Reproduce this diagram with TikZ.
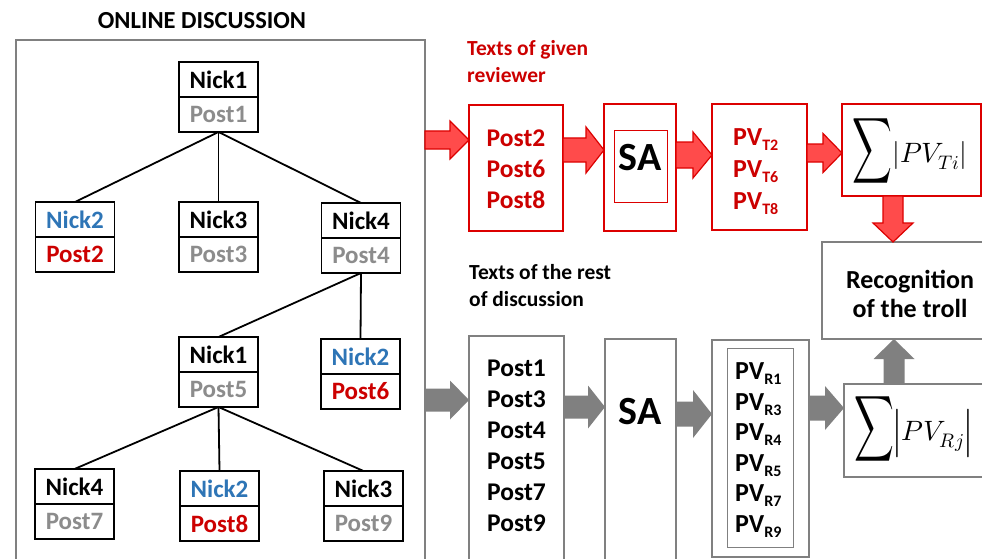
\documentclass[tikz,border=0pt]{standalone}
\usepackage{fontspec}
\usepackage{unicode-math}
\setmainfont{Carlito}
\setmathfont{Latin Modern Math}
\usetikzlibrary{calc}
\definecolor{rtxt}{RGB}{204,0,0}
\definecolor{rline}{RGB}{220,0,0}
\definecolor{rfill}{RGB}{255,75,75}
\definecolor{gline}{RGB}{128,128,128}
\definecolor{gtxt}{RGB}{140,140,140}
\definecolor{btxt}{RGB}{46,117,182}
% horizontal block arrow: style, start, end, shaft half width, head half width, head length
\newcommand\harr[6]{\draw[#1] let \p1=#2, \p2=#3 in (\x1,\y1+#4pt) -- (\x2-#6pt,\y1+#4pt) -- (\x2-#6pt,\y1+#5pt) -- (\x2,\y1) -- (\x2-#6pt,\y1-#5pt) -- (\x2-#6pt,\y1-#4pt) -- (\x1,\y1-#4pt) -- cycle;}
\newcommand\varrdown[6]{\draw[#1] let \p1=#2, \p2=#3 in (\x1-#4pt,\y1) -- (\x1-#4pt,\y2+#6pt) -- (\x1-#5pt,\y2+#6pt) -- (\x1,\y2) -- (\x1+#5pt,\y2+#6pt) -- (\x1+#4pt,\y2+#6pt) -- (\x1+#4pt,\y1) -- cycle;}
\newcommand\varrup[6]{\draw[#1] let \p1=#2, \p2=#3 in (\x1-#4pt,\y1) -- (\x1-#4pt,\y2-#6pt) -- (\x1-#5pt,\y2-#6pt) -- (\x1,\y2) -- (\x1+#5pt,\y2-#6pt) -- (\x1+#4pt,\y2-#6pt) -- (\x1+#4pt,\y1) -- cycle;}
\newcommand\sbx[1]{{\fontsize{16}{16}\selectfont\raisebox{-5pt}{#1}}}
\newcommand\tpair[7]{%
 \node[tcell, text=#6] (#1n) at (#2,#3+17.5) {#4};
 \node[tcell, text=#7] (#1p) at (#2,#3+52.5) {#5};}
\tikzset{
 tcell/.style={draw=black, line width=1.6, minimum width=79, minimum height=35, inner sep=0, outer sep=0, font=\fontsize{25}{25}\selectfont\bfseries},
 tline/.style={line width=1.8, black},
 redbox/.style={draw=rline, line width=2.5, inner sep=0, outer sep=0, anchor=north west},
 graybox/.style={draw=gline, line width=2.5, inner sep=0, outer sep=0, anchor=north west},
 thinred/.style={draw=rline, line width=0.8, inner sep=0, outer sep=0, anchor=north west},
 thingray/.style={draw=gline, line width=0.8, inner sep=0, outer sep=0, anchor=north west},
 redarrow/.style={fill=rfill, draw=rline, line width=1.2, line join=miter},
 grayarrow/.style={fill=gline, draw=none},
 bigtxt/.style={font=\fontsize{25.5}{31}\selectfont\bfseries, align=center, inner sep=0},
 lbl/.style={font=\fontsize{21.5}{27}\selectfont\bfseries, align=left, anchor=west, inner sep=0},
 satxt/.style={font=\fontsize{40}{40}\selectfont\bfseries, inner sep=0},
 pvtxt/.style={align=left, anchor=west, inner sep=0},
}
\begin{document}
\begin{tikzpicture}[x=1pt,y=-1pt]
\useasboundingbox (0,0) rectangle (982,559);
% left panel
\node[font=\fontsize{24.5}{24}\selectfont\bfseries, inner sep=0] (title) at (202,21) {ONLINE DISCUSSION};
\node[graybox, minimum width=409, minimum height=540] (outer) at (16,40) {};
\tpair{t1}{218.5}{62}{Nick1}{Post1}{black}{gtxt}
\tpair{t2}{75}{202}{Nick2}{Post2}{btxt}{rtxt}
\tpair{t3}{218.5}{202}{Nick3}{Post3}{black}{gtxt}
\tpair{t4}{361}{203}{Nick4}{Post4}{black}{gtxt}
\tpair{t5}{218.5}{337}{Nick1}{Post5}{black}{gtxt}
\tpair{t6}{360.5}{339}{Nick2}{Post6}{btxt}{rtxt}
\tpair{t7}{74.5}{469}{Nick4}{Post7}{black}{gtxt}
\tpair{t8}{219.5}{471}{Nick2}{Post8}{btxt}{rtxt}
\tpair{t9}{363.5}{471}{Nick3}{Post9}{black}{gtxt}
\draw[tline] (t1p.south) -- (t2n.north);
\draw[tline] (t1p.south) -- (t3n.north);
\draw[tline] (t1p.south) -- (t4n.north);
\draw[tline] (t4p.south) -- (t5n.north);
\draw[tline] (t4p.south) -- (t6n.north);
\draw[tline] (t5p.south) -- (t7n.north);
\draw[tline] (t5p.south) -- (t8n.north);
\draw[tline] (t5p.south) -- (t9n.north);
% red row
\node[lbl, text=rtxt] (rlbl) at (467,61.5) {Texts of given\\reviewer};
\node[redbox, minimum width=94, minimum height=126] (bA) at (469,105) {};
\node[bigtxt, text=rtxt] (bAt) at (516,169) {Post2\\Post6\\Post8};
\node[redbox, minimum width=72, minimum height=127] (saT) at (604,104) {};
\node[thinred, minimum width=53, minimum height=72] (saTi) at (614,130) {};
\node[satxt] (saTt) at (640,158) {SA};
\node[redbox, minimum width=95, minimum height=126] (pvT) at (712,104) {};
\node[pvtxt, font=\fontsize{26}{32}\selectfont\bfseries, text=rtxt] (pvTt) at (733,172) {PV\sbx{T2}\\PV\sbx{T6}\\PV\sbx{T8}};
\node[redbox, minimum width=139, minimum height=92] (sumT) at (842,104) {};
\node[inner sep=0] (sumTt) at (910,151) {\scalebox{0.6}[1]{\fontsize{46}{46}\selectfont$\displaystyle\sum$}\fontsize{28}{28}\selectfont$|PV_{Ti}|$};
\node[graybox, minimum width=170, minimum height=97] (rec) at (822,242) {};
\node[bigtxt, font=\fontsize{26}{29}\selectfont\bfseries] (rect) at (910,294) {Recognition\\of the troll};
% gray row
\node[lbl, text=black] (glbl) at (469,285.5) {Texts of the rest\\of discussion};
\node[graybox, minimum width=95, minimum height=240] (bB) at (469,336) {};
\node[bigtxt] (bBt) at (516.5,446) {Post1\\Post3\\Post4\\Post5\\Post7\\Post9};
\node[graybox, minimum width=71, minimum height=240] (saR) at (605,339) {};
\node[satxt] (saRt) at (640,412) {SA};
\node[graybox, minimum width=97, minimum height=217] (pvR) at (712,340) {};
\node[thingray, minimum width=66, minimum height=199] (pvRi) at (727,348) {};
\node[pvtxt, font=\fontsize{26}{30.6}\selectfont\bfseries] (pvRt) at (735,450) {PV\sbx{R1}\\PV\sbx{R3}\\PV\sbx{R4}\\PV\sbx{R5}\\PV\sbx{R7}\\PV\sbx{R9}};
\node[graybox, minimum width=150, minimum height=93] (sumR) at (844,384) {};
\node[inner sep=0] (sumRt) at (913,429) {\scalebox{0.6}[1]{\fontsize{46}{46}\selectfont$\displaystyle\sum$}\fontsize{28}{28}\selectfont$\Big|PV_{Rj}\Big|$};
% arrows
\harr{redarrow}{(outer.east |- 0,140)}{(bA.west |- 0,140)}{9}{19}{19}
\harr{redarrow}{(bA.east |- 0,150)}{(saT.west |- 0,150)}{12}{23}{18}
\harr{redarrow}{(saT.east |- 0,155)}{(pvT.west |- 0,155)}{13}{23}{19}
\harr{redarrow}{(pvT.east |- 0,153)}{(sumT.west |- 0,153)}{9}{19.5}{19}
\varrdown{redarrow}{(893,0 |- sumT.south)}{(893,0 |- rec.north)}{10}{20}{19}
\harr{grayarrow}{(outer.east |- 0,400)}{(bB.west |- 0,400)}{11.5}{19.5}{19}
\harr{grayarrow}{(bB.east |- 0,407)}{(saR.west |- 0,407)}{11.5}{21.5}{17}
\harr{grayarrow}{(saR.east |- 0,414)}{(pvR.west |- 0,414)}{12.5}{24}{19}
\harr{grayarrow}{(pvR.east |- 0,408)}{(sumR.west |- 0,408)}{12.5}{22}{19}
\varrup{grayarrow}{(894,0 |- sumR.north)}{(894,0 |- rec.south)}{10.5}{20.5}{20}
\end{tikzpicture}
\end{document}
